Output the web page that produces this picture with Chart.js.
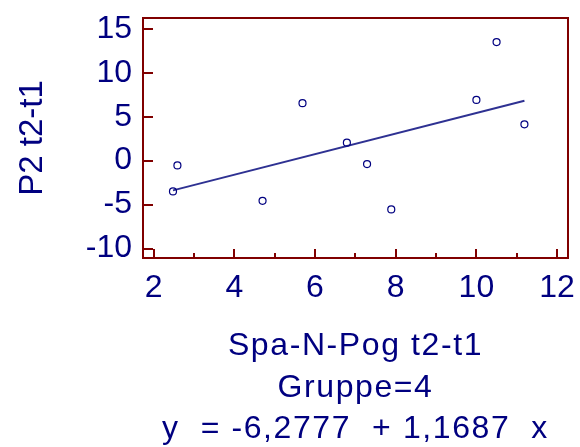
<!DOCTYPE html>
<html><head><meta charset="utf-8">
<script src="https://cdn.jsdelivr.net/npm/chart.js@4/dist/chart.umd.min.js"></script>
<style>html,body{margin:0;padding:0;background:#fff}#wrap{width:580px;height:447px}</style>
</head><body><div id="wrap"><canvas id="c" width="580" height="447"></canvas></div>
<script>
// ---- data ----
const xValues = [2.48, 2.59, 4.70, 5.69, 6.79, 7.29, 7.89, 10.00, 10.50, 11.19];
const yValues = [-3.50, -0.54, -4.57, 6.53, 2.04, -0.39, -5.55, 6.91, 13.48, 4.13];
const fitIntercept = -6.2777;
const fitSlope = 1.1687;
const xTicks = [2, 4, 6, 8, 10, 12];
const xMinorTicks = [3, 5, 7, 9, 11];
const yTicks = [-10, -5, 0, 5, 10, 15];
const xTitleLines = ['Spa-N-Pog t2-t1', 'Gruppe=4', 'y  = -6,2777  + 1,1687  x'];
const yTitle = 'P2 t2-t1';

// ---- styles ----
const textColor = '#000080';
const frameColor = '#800000';
const lineColor = '#2e3192';
const fontFamily = '"Liberation Sans", Arial, Helvetica, sans-serif';
Chart.defaults.font.family = fontFamily;

const points = xValues.map((x, i) => ({x: x, y: yValues[i]}));
const xFitMin = Math.min(...xValues), xFitMax = Math.max(...xValues);
const fitLine = [xFitMin, xFitMax].map(x => ({x: x, y: fitIntercept + fitSlope * x}));

const decor = {
  id: 'decor',
  beforeDatasetsDraw(chart) {
    const {ctx, chartArea: a, scales: {x, y}} = chart;
    ctx.save();
    ctx.strokeStyle = frameColor;
    ctx.lineWidth = 2;
    ctx.strokeRect(a.left, a.top, a.right - a.left, a.bottom - a.top);
    ctx.beginPath();
    xTicks.forEach(v => { const p = Math.round(x.getPixelForValue(v)); ctx.moveTo(p, a.bottom); ctx.lineTo(p, a.bottom - 9); });
    xMinorTicks.forEach(v => { const p = Math.round(x.getPixelForValue(v)); ctx.moveTo(p, a.bottom); ctx.lineTo(p, a.bottom - 5); });
    yTicks.forEach(v => { const p = Math.round(y.getPixelForValue(v)); ctx.moveTo(a.left, p); ctx.lineTo(a.left + 10, p); });
    ctx.stroke();
    ctx.restore();
  },
  afterDraw(chart) {
    const {ctx, chartArea: a} = chart;
    ctx.save();
    ctx.fillStyle = textColor;
    ctx.font = '32px ' + fontFamily;
    ctx.textAlign = 'center';
    ctx.textBaseline = 'alphabetic';
    try { ctx.letterSpacing = '1.6px'; } catch (e) {}
    const cx = (a.left + a.right) / 2;
    const baselines = [355, 396.5, 438];
    xTitleLines.forEach((t, i) => ctx.fillText(t, cx, baselines[i]));
    ctx.restore();
  }
};

new Chart(document.getElementById('c'), {
  type: 'scatter',
  data: {
    datasets: [
      {
        data: points,
        pointStyle: 'circle',
        pointRadius: 3.5,
        pointBorderWidth: 1.2,
        pointBorderColor: textColor,
        pointBackgroundColor: 'rgba(255,255,255,0)',
        showLine: false
      },
      {
        data: fitLine,
        showLine: true,
        borderColor: lineColor,
        borderWidth: 2,
        pointRadius: 0
      }
    ]
  },
  options: {
    responsive: false,
    animation: false,
    devicePixelRatio: 1,
    layout: {padding: {left: 0, right: 12, top: 18, bottom: 0}},
    plugins: {legend: {display: false}, tooltip: {enabled: false}},
    scales: {
      x: {
        type: 'linear',
        min: 1.737, max: 12.27,
        afterBuildTicks: s => { s.ticks = xTicks.map(v => ({value: v})); },
        afterFit: s => { s.height = 189; s.paddingLeft = 0; s.paddingRight = 0; },
        grid: {display: false, drawTicks: false},
        border: {display: false},
        ticks: {color: textColor, font: {size: 32}, padding: 11, maxRotation: 0, autoSkip: false},
        title: {display: false}
      },
      y: {
        type: 'linear',
        min: -11.07, max: 16.22,
        afterBuildTicks: s => { s.ticks = yTicks.map(v => ({value: v})); },
        afterFit: s => { s.width = 143; s.paddingTop = 0; s.paddingBottom = 0; },
        grid: {display: false, drawTicks: false},
        border: {display: false},
        ticks: {color: textColor, font: {size: 32}, padding: 11, autoSkip: false},
        title: {display: true, text: yTitle, color: textColor, font: {size: 33}, padding: {top: 13, bottom: 0}}
      }
    }
  },
  plugins: [decor]
});
</script>
</body></html>
